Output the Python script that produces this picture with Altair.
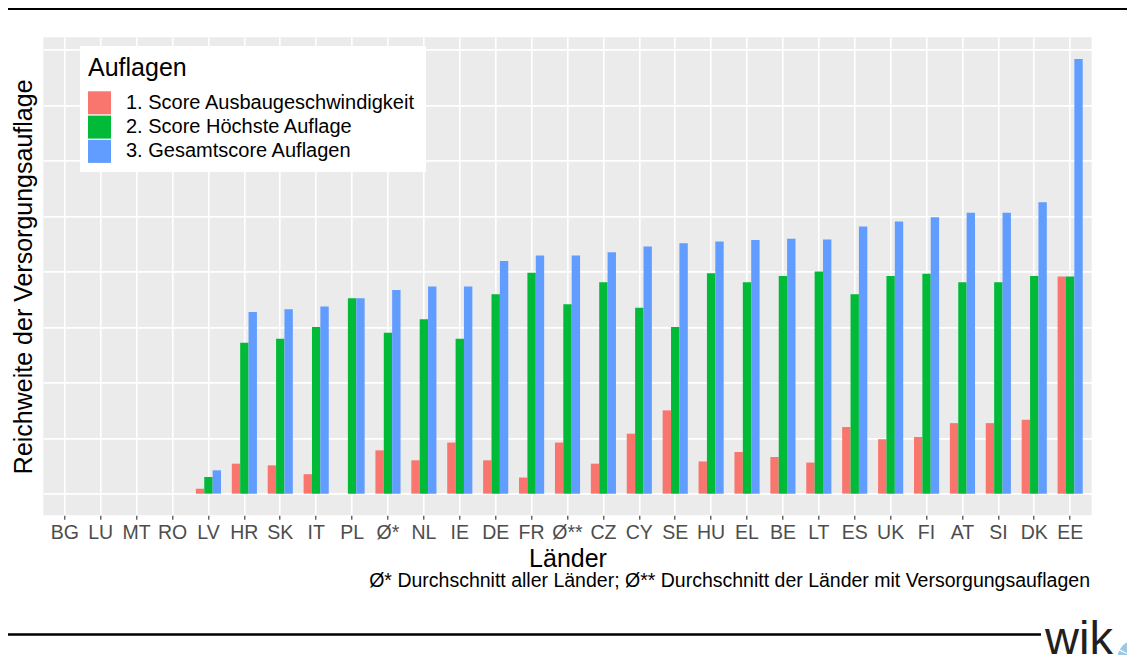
import altair as alt
import pandas as pd

FONT = "Liberation Sans"

countries = ["BG", "LU", "MT", "RO", "LV", "HR", "SK", "IT", "PL", "Ø*", "NL", "IE",
             "DE", "FR", "Ø**", "CZ", "CY", "SE", "HU", "EL", "BE", "LT", "ES", "UK",
             "FI", "AT", "SI", "DK", "EE"]

series_names = ["1. Score Ausbaugeschwindigkeit",
                "2. Score Höchste Auflage",
                "3. Gesamtscore Auflagen"]

score_ausbau = [0, 0, 0, 0, 0.09, 0.54, 0.51, 0.35, 0, 0.78, 0.60, 0.92,
                0.60, 0.29, 0.92, 0.54, 1.08, 1.50, 0.58, 0.75, 0.66, 0.56, 1.20, 0.98,
                1.02, 1.27, 1.27, 1.33, 3.91]
score_hoechste = [0, 0, 0, 0, 0.30, 2.72, 2.79, 3.00, 3.52, 2.90, 3.14, 2.79,
                  3.59, 3.98, 3.41, 3.81, 3.35, 3.00, 3.97, 3.81, 3.92, 4.00, 3.59, 3.92,
                  3.96, 3.81, 3.81, 3.92, 3.91]
score_gesamt = [0, 0, 0, 0, 0.42, 3.27, 3.32, 3.37, 3.52, 3.67, 3.73, 3.73,
                4.19, 4.29, 4.29, 4.35, 4.45, 4.51, 4.54, 4.57, 4.59, 4.58, 4.81, 4.90,
                4.98, 5.06, 5.06, 5.25, 7.83]

series_colors = ["#F8766D", "#00BA38", "#619CFF"]
grid_values = [0, 1, 2, 3, 4, 5, 6, 7, 8]

caption = "Ø* Durchschnitt aller Länder; Ø** Durchschnitt der Länder mit Versorgungsauflagen"

rows = []
for vals, name in zip([score_ausbau, score_hoechste, score_gesamt], series_names):
    for c, v in zip(countries, vals):
        rows.append({"land": c, "serie": name, "wert": v})
df = pd.DataFrame(rows)

W, H = 1048.4, 478

bars = alt.Chart(df).mark_bar().encode(
    x=alt.X("land:N", sort=countries,
            scale=alt.Scale(domain=countries, paddingInner=0, paddingOuter=0.1),
            axis=alt.Axis(title="Länder", labelAngle=0, labelFontSize=19.5, labelFont=FONT,
                          labelColor="#4D4D4D", labelPadding=4.4, tickColor="#333333",
                          tickSize=4, tickWidth=1.1, domain=False, grid=True,
                          gridColor="white", gridWidth=1.6, bandPosition=0.5,
                          titleFontSize=25, titleFont=FONT, titleFontWeight="normal",
                          titleColor="black", titleBaseline="alphabetic", titleY=51.2)),
    xOffset=alt.XOffset("serie:N", sort=series_names,
                        scale=alt.Scale(paddingInner=0, paddingOuter=0.643)),
    y=alt.Y("wert:Q", stack=False,
            scale=alt.Scale(domain=[-0.39, 8.22], nice=False, zero=False),
            axis=alt.Axis(title="Reichweite der Versorgungsauflage", labels=False, ticks=False,
                          domain=False, grid=True, gridColor="white", gridWidth=1.8,
                          values=grid_values, titleFontSize=25, titleFont=FONT,
                          titleFontWeight="normal", titleColor="black",
                          titleBaseline="alphabetic", titleAngle=270, titleX=-11.5)),
    color=alt.Color("serie:N", sort=series_names,
                    scale=alt.Scale(domain=series_names, range=series_colors),
                    legend=alt.Legend(orient="none", legendX=44.7, legendY=19,
                                      title="Auflagen", titleFontSize=25, titleFont=FONT,
                                      titleFontWeight="normal", titleColor="black",
                                      titlePadding=10, labelFontSize=20, labelFont=FONT,
                                      labelColor="black", labelLimit=500, symbolType="square",
                                      symbolSize=529, symbolStrokeWidth=0,
                                      symbolOpacity=1, rowPadding=1.3, labelOffset=15,
                                      padding=0)),
)

one = pd.DataFrame({"a": [0]})

legend_box = alt.Chart(one).mark_rect(color="white").encode(
    x=alt.value(36.7), x2=alt.value(382.7), y=alt.value(8.7), y2=alt.value(134.7)
)

top_line = alt.Chart(one).mark_rule(color="black", strokeWidth=2.2, clip=False).encode(
    x=alt.value(-40), x2=alt.value(1100), y=alt.value(-28.3)
)
bottom_line = alt.Chart(one).mark_rule(color="black", strokeWidth=2.5, clip=False).encode(
    x=alt.value(-37), x2=alt.value(997.7), y=alt.value(597.2)
)

cap = alt.Chart(pd.DataFrame({"t": [caption]})).mark_text(
    align="right", baseline="alphabetic", fontSize=19.5, font=FONT, color="black"
).encode(x=alt.value(1046.7), y=alt.value(549.5), text="t:N")

logo = alt.Chart(pd.DataFrame({"t": ["wik"]})).mark_text(
    align="left", baseline="alphabetic", fontSize=47, font=FONT, color="#231F20"
).encode(x=alt.value(1001.7), y=alt.value(617), text="t:N")

icon1 = alt.Chart(one).mark_arc(color="#9CC8E4", outerRadius=17, innerRadius=0).encode(
    x=alt.value(1091.5), y=alt.value(620), theta=alt.value(4.3), theta2=alt.value(5.1)
)
icon2 = alt.Chart(one).mark_arc(color="#3A8DC4", outerRadius=17, innerRadius=0).encode(
    x=alt.value(1091.5), y=alt.value(620), theta=alt.value(3.5), theta2=alt.value(4.2)
)
icon3 = alt.Chart(one).mark_arc(color="#9CC8E4", outerRadius=17, innerRadius=0).encode(
    x=alt.value(1091.5), y=alt.value(620), theta=alt.value(5.2), theta2=alt.value(6.0)
)

chart = alt.layer(bars, legend_box, top_line, bottom_line, cap, logo, icon1, icon2, icon3).properties(
    width=W, height=H,
    autosize=alt.AutoSizeParams(type="none"),
    padding={"left": 35.3, "top": 29.3, "right": 35.3, "bottom": 139.7},
    background="white",
).configure_view(fill="#EBEBEB", strokeWidth=0)

chart.save("out.html", embed_options={"renderer": "svg", "actions": False})
